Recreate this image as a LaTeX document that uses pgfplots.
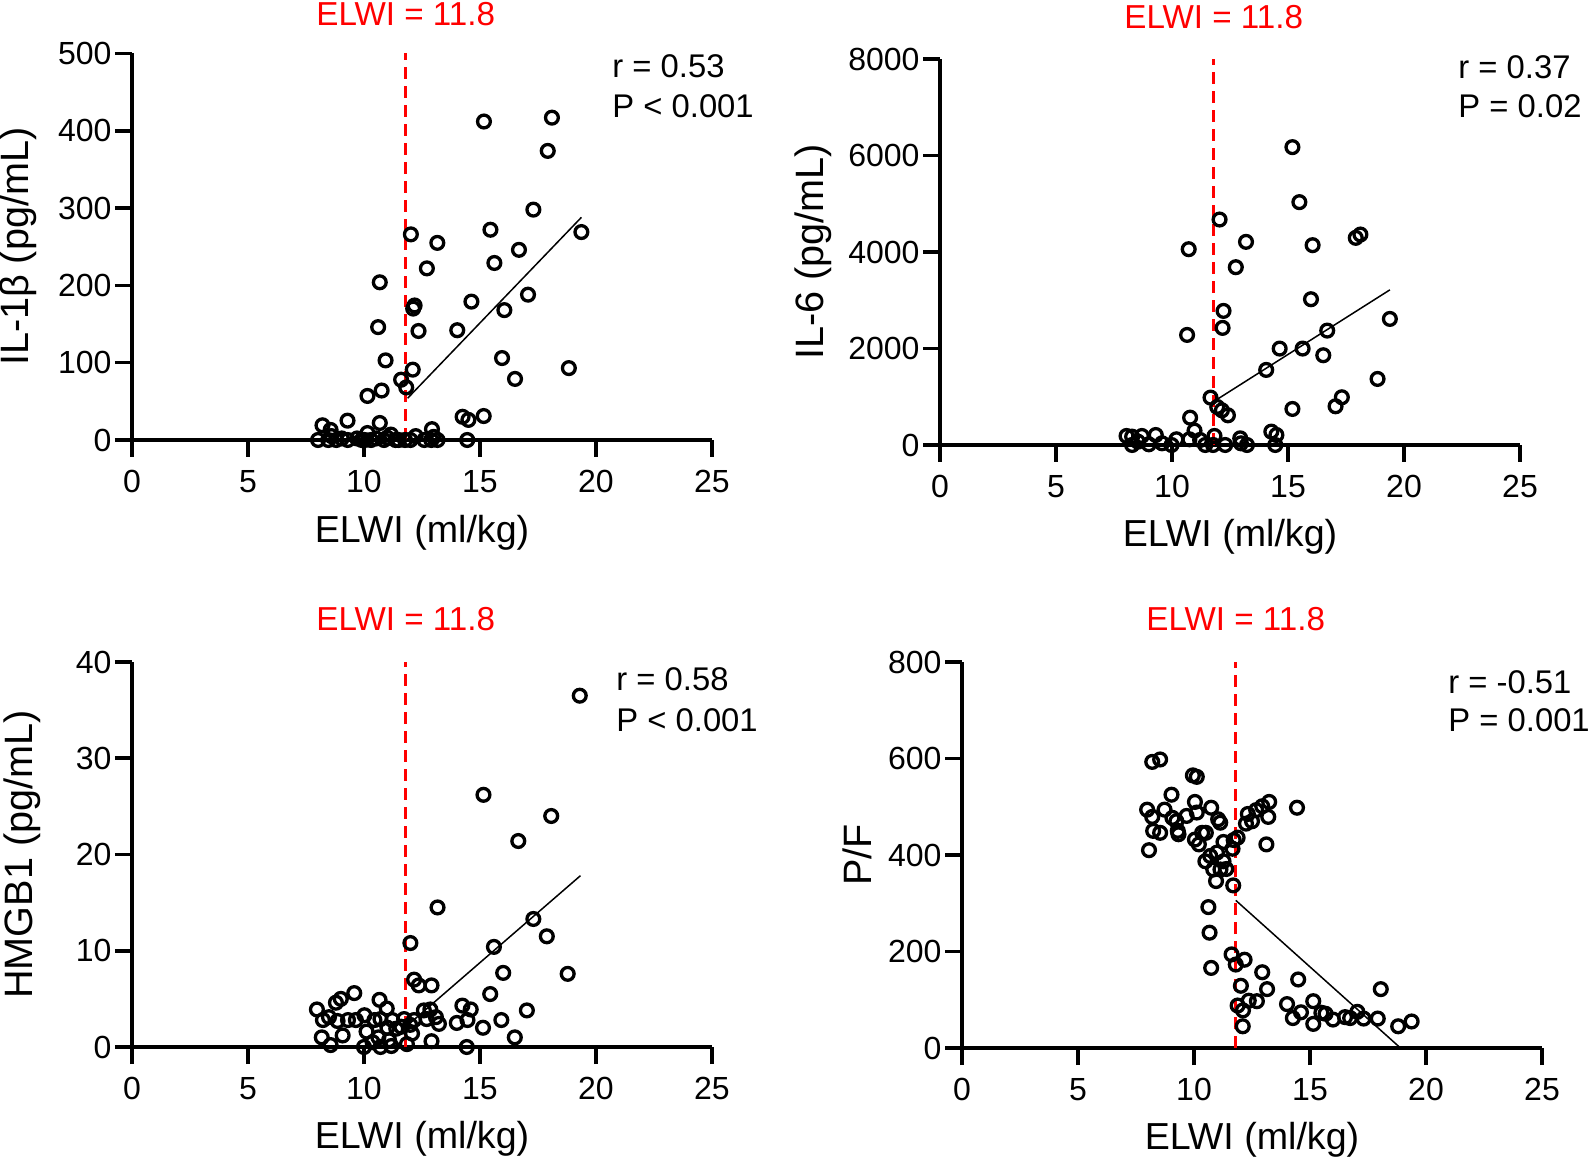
\documentclass[border=0pt]{standalone}
\usepackage{pgfplots}
\pgfplotsset{compat=1.18}
\usepackage{fontspec}
\setmainfont{Liberation Sans}
\definecolor{elwired}{RGB}{255,0,0}
\pgfplotsset{
  prism/.style={
    scale only axis,
    width=290pt,
    xmin=0, xmax=25,
    xtick={0,5,10,15,20,25},
    ymin=0,
    line width=1.8pt,
    axis x line*=bottom,
    axis y line*=left,
    axis line style={line width=1.8pt,-},
    x axis line style={line width=1.8pt},
    y axis line style={line width=1.8pt},
    tick style={line width=1.8pt,black},
    tick align=outside,
    major tick length=8.5pt,
    minor tick num=0,
    clip=false,
    ticklabel style={font=\fontsize{16}{19}\selectfont},
    xticklabel style={yshift=-2.5pt},
    yticklabel style={xshift=2.5pt},
    xlabel style={font=\fontsize{18.8}{22}\selectfont},
    ylabel style={font=\fontsize{19.8}{23}\selectfont},
    /pgf/number format/assume math mode=true,
    /pgf/number format/1000 sep={},
    scaled y ticks=false,
    xlabel={ELWI (ml/kg)},
    xlabel style={anchor=center},
    ylabel style={anchor=center},
  },
  pts/.style={only marks, mark=o, mark size=3.2pt, mark options={line width=1.65pt, black}},
  fit/.style={black, line width=0.75pt, no marks},
  thr/.style={elwired, line width=1.5pt, dash pattern=on 6pt off 3.5pt},
}
\pgfplotstableread{
x y
15.17 412
18.10 417
17.92 374
17.30 298
19.37 269
15.45 272
12.02 266
13.16 255
16.68 246
15.62 229
12.71 222
10.68 204
17.07 188
14.63 179
12.18 174
12.12 170
16.05 168
10.61 146
12.35 141
14.02 142
10.93 103
15.95 106
18.83 93
12.10 91
11.60 78
11.82 68
16.51 79
10.76 64
10.15 57
14.25 30
14.50 26
15.16 31
14.45 0
8.21 19
8.56 13
9.29 25
10.68 22
10.15 9
11.16 7
12.23 5
12.93 14
8.02 0
8.46 0
8.80 0
9.04 2
9.70 2
10.03 0
10.53 2
10.86 0
11.36 0
11.77 0
12.60 0
13.17 0
13.00 4
8.60 5
9.30 0
9.90 0
10.30 0
11.00 3
11.50 0
12.00 0
12.90 0
}\tabA
\pgfplotstableread{
x y
15.19 6173
15.49 5033
12.05 4673
10.72 4058
13.19 4210
16.06 4141
17.92 4293
18.12 4362
12.75 3685
15.99 3021
12.22 2779
12.18 2427
10.65 2281
19.39 2613
16.69 2371
14.64 1998
15.63 1998
16.52 1860
14.06 1556
18.86 1369
11.66 982
17.32 989
17.05 802
15.19 747
11.95 788
12.15 719
12.41 615
10.78 567
8.04 187
8.28 173
8.70 187
9.30 207
9.00 14
9.57 35
9.98 0
10.19 118
10.75 118
10.97 297
11.21 104
11.43 0
11.83 187
11.77 0
12.29 0
12.94 138
12.97 35
13.23 0
14.28 277
14.50 207
14.45 0
8.28 0
8.53 69
}\tabB
\pgfplotstableread{
x y
19.30 36.5
15.15 26.2
18.07 24.0
16.65 21.4
13.17 14.5
12.00 10.8
17.30 13.3
15.60 10.4
17.88 11.5
16.00 7.7
18.78 7.6
12.16 7.0
12.36 6.4
12.91 6.4
15.44 5.5
9.58 5.6
17.02 3.8
15.92 2.8
15.13 2.0
16.50 1.0
14.43 0
14.24 4.3
14.60 3.9
14.00 2.5
14.46 2.8
12.91 0.6
13.23 2.4
12.58 3.8
12.86 3.9
12.70 2.9
13.10 3.1
12.16 2.8
7.97 3.9
8.23 2.8
8.18 1.0
8.56 0.2
8.49 3.1
8.79 4.6
8.86 2.7
9.00 5.0
9.08 1.2
9.31 2.8
9.65 2.8
10.02 3.3
10.11 1.6
10.00 0
10.45 2.8
10.62 1.0
10.67 4.9
10.71 2.9
10.98 4.0
11.01 2.0
10.71 0
11.18 0.1
11.22 2.8
11.39 1.9
11.61 2.1
11.73 2.9
11.85 0.3
12.07 1.4
11.99 2.3
11.08 0.7
10.37 0.5
}\tabC
\pgfplotstableread{
x y
8.20 593
8.54 598
9.95 565
10.12 562
9.03 525
10.04 510
7.98 494
8.73 494
10.74 498
8.20 479
9.07 477
9.68 481
10.12 488
11.04 474
11.13 467
9.24 470
9.30 450
9.33 443
8.24 450
8.54 446
8.06 410
10.35 446
10.51 446
10.04 432
10.21 422
11.27 427
11.71 431
11.88 436
11.66 413
10.99 405
10.70 398
10.49 387
11.27 387
10.83 370
11.14 370
11.39 371
10.95 346
11.69 337
10.62 292
10.67 239
10.74 166
12.32 485
12.50 470
12.68 493
12.94 501
13.24 510
13.20 479
12.24 465
13.12 422
14.44 498
11.62 194
11.80 173
12.18 183
12.94 157
12.02 129
13.15 122
14.49 142
18.05 122
11.88 88
12.11 78
12.36 98
12.71 97
12.10 45
14.01 91
14.26 62
14.61 74
15.14 97
15.14 50
15.49 73
15.67 71
15.99 59
16.51 64
16.73 62
17.04 75
17.31 61
17.92 61
18.80 45
19.38 55
}\tabD
\begin{document}
\begin{tikzpicture}
\path[use as bounding box] (0,0) rectangle (797pt,580.5pt);
% Panel A
\begin{axis}[prism, at={(66pt,360.5pt)}, anchor=south west, height=193.25pt,
  ymax=500, ytick={0,100,200,300,400,500},
  ylabel={IL-1β (pg/mL)},
  xlabel style={at={(axis description cs:0.5,-0.2406)}},
  ylabel style={at={(axis description cs:-0.1962,0.5)}}]
\addplot[thr] coordinates {(11.8,0) (11.8,500)};
\addplot[pts] table {\tabA};
\addplot[fit] coordinates {(11.88,54) (19.37,288)};
\node[elwired, font=\fontsize{16.6}{19}\selectfont] at (axis cs:11.8,500) [yshift=19.5pt] {ELWI = 11.8};
\end{axis}
% Panel B
\begin{axis}[prism, at={(470pt,358pt)}, anchor=south west, height=193pt,
  ymax=8000, ytick={0,2000,4000,6000,8000},
  ylabel={IL-6 (pg/mL)},
  xlabel style={at={(axis description cs:0.5,-0.2383)}},
  ylabel style={at={(axis description cs:-0.2184,0.5)}}]
\addplot[thr] coordinates {(11.8,0) (11.8,8000)};
\addplot[pts] table {\tabB};
\addplot[fit] coordinates {(11.95,947) (19.39,3215)};
\node[elwired, font=\fontsize{16.6}{19}\selectfont] at (axis cs:11.8,8000) [yshift=20.9pt] {ELWI = 11.8};
\end{axis}
% Panel C
\begin{axis}[prism, at={(66pt,57pt)}, anchor=south west, height=192.5pt,
  ymax=40, ytick={0,10,20,30,40},
  ylabel={HMGB1 (pg/mL)},
  xlabel style={at={(axis description cs:0.5,-0.2390)}},
  ylabel style={at={(axis description cs:-0.1890,0.5)}}]
\addplot[thr] coordinates {(11.8,0) (11.8,40)};
\addplot[pts] table {\tabC};
\addplot[fit] coordinates {(11.9,2.3) (19.33,17.8)};
\node[elwired, font=\fontsize{16.6}{19}\selectfont] at (axis cs:11.8,40) [yshift=21.5pt] {ELWI = 11.8};
\end{axis}
% Panel D
\begin{axis}[prism, at={(481pt,56.5pt)}, anchor=south west, height=193pt,
  ymax=800, ytick={0,200,400,600,800},
  ylabel={P/F},
  xlabel style={at={(axis description cs:0.5,-0.2383)}},
  ylabel style={at={(axis description cs:-0.1810,0.5)}}]
\addplot[thr] coordinates {(11.8,0) (11.8,800)};
\addplot[pts] table {\tabD};
\addplot[fit] coordinates {(11.8,306) (18.9,0)};
\node[elwired, font=\fontsize{16.6}{19}\selectfont] at (axis cs:11.8,800) [yshift=21.5pt] {ELWI = 11.8};
\end{axis}
% correlation texts
\begin{scope}[every node/.style={anchor=west, inner sep=0pt, font=\fontsize{16.4}{19}\selectfont}]
\node at (306pt,547.5pt) {r = 0.53};
\node at (306pt,527.5pt) {P < 0.001};
\node at (729pt,547pt) {r = 0.37};
\node at (729pt,527.5pt) {P = 0.02};
\node at (308pt,241pt) {r = 0.58};
\node at (308pt,220.5pt) {P < 0.001};
\node at (724pt,239.5pt) {r = -0.51};
\node at (724pt,220.5pt) {P = 0.001};
\end{scope}
\end{tikzpicture}
\end{document}
